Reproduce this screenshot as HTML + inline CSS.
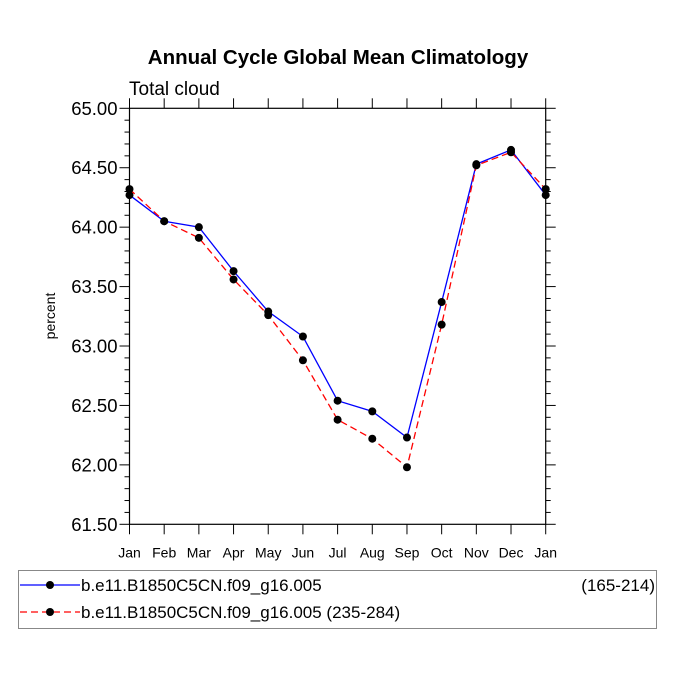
<!DOCTYPE html>
<html><head><meta charset="utf-8"><style>
html,body{margin:0;padding:0;background:#fff;}
svg{display:block;font-family:"Liberation Sans",Arial,sans-serif;}
</style></head><body>
<svg id="chart" width="675" height="676" viewBox="0 0 675 676" xmlns="http://www.w3.org/2000/svg">
<text x="338" y="64" text-anchor="middle" font-size="20.5" font-weight="bold">Annual Cycle Global Mean Climatology</text>
<text x="129" y="95" font-size="19">Total cloud</text>
<text transform="translate(55,316) rotate(-90)" text-anchor="middle" font-size="14">percent</text>
<g id="axes"></g>
<g id="series"></g>
<rect x="18.5" y="570.5" width="638" height="58" fill="none" stroke="#888" stroke-width="1"/>
<g>
<line x1="20" y1="585" x2="80" y2="585" stroke="#0000ff" stroke-width="1.3"/>
<circle cx="50" cy="585" r="4" fill="#000"/>
<text x="81" y="591" font-size="17">b.e11.B1850C5CN.f09_g16.005</text>
<text x="655" y="591" font-size="17" text-anchor="end">(165-214)</text>
</g>
<g>
<line x1="20" y1="612" x2="80" y2="612" stroke="#ff0000" stroke-width="1.3" stroke-dasharray="7,4"/>
<circle cx="50" cy="612" r="4" fill="#000"/>
<text x="81" y="618" font-size="17">b.e11.B1850C5CN.f09_g16.005 (235-284)</text>
</g>
</svg>
<script>
const months = ["Jan","Feb","Mar","Apr","May","Jun","Jul","Aug","Sep","Oct","Nov","Dec","Jan"];
const blueValues = [64.27,64.05,64.00,63.63,63.29,63.08,62.54,62.45,62.23,63.37,64.53,64.65,64.27];
const redValues = [64.32,64.05,63.91,63.56,63.26,62.88,62.38,62.22,61.98,63.18,64.52,64.63,64.32];
const yTicks = ["61.50","62.00","62.50","63.00","63.50","64.00","64.50","65.00"];

const L=129.5,R=545.7,T=108.3,B=524.3,yMin=61.5,yMax=65;
const NS="http://www.w3.org/2000/svg";
function x(i){return L+i*(R-L)/(months.length-1);}
function y(v){return B-(v-yMin)/(yMax-yMin)*(B-T);}
function mk(tag,attrs,parent){const e=document.createElementNS(NS,tag);for(const k in attrs)e.setAttribute(k,attrs[k]);parent.appendChild(e);return e;}
const axes=document.getElementById('axes'),series=document.getElementById('series');
const frame=mk('rect',{x:L,y:T,width:R-L,height:B-T,fill:'none',stroke:'#000','stroke-width':1.2},axes);


for(let v=yMin;v<=yMax+1e-6;v+=0.1){
  const yy=y(v);const major=Math.abs(v*2-Math.round(v*2))<1e-6;const len=major?10:5;
  mk('line',{x1:L,y1:yy,x2:L-len,y2:yy,stroke:'#000','stroke-width':1},axes);
  mk('line',{x1:R,y1:yy,x2:R+len,y2:yy,stroke:'#000','stroke-width':1},axes);
}
yTicks.forEach(t=>{
  const e=mk('text',{x:L-12,y:y(parseFloat(t))+6.5,'text-anchor':'end','font-size':18.5},axes);
  e.textContent=t;
  
  
});
months.forEach((m,i)=>{
  const xx=x(i);
  mk('line',{x1:xx,y1:B,x2:xx,y2:B+10,stroke:'#000','stroke-width':1},axes);
  mk('line',{x1:xx,y1:T,x2:xx,y2:T-10,stroke:'#000','stroke-width':1},axes);
  const e=mk('text',{x:xx,y:B+33,'text-anchor':'middle','font-size':14},axes);
  e.textContent=m;
  
  
});
function draw(vals,color,dash,name){
  const pts=vals.map((v,i)=>x(i)+','+y(v)).join(' ');
  const pl=mk('polyline',{points:pts,fill:'none',stroke:color,'stroke-width':1.3},series);
  if(dash)pl.setAttribute('stroke-dasharray',dash);
  
  
  vals.forEach((v,i)=>{
    const c=mk('circle',{cx:x(i),cy:y(v),r:4,fill:'#000'},series);
    
    
  });
}
draw(blueValues,'#0000ff',null,'blue-series');
draw(redValues,'#ff0000','7,4','red-series');
</script>
</body></html>
